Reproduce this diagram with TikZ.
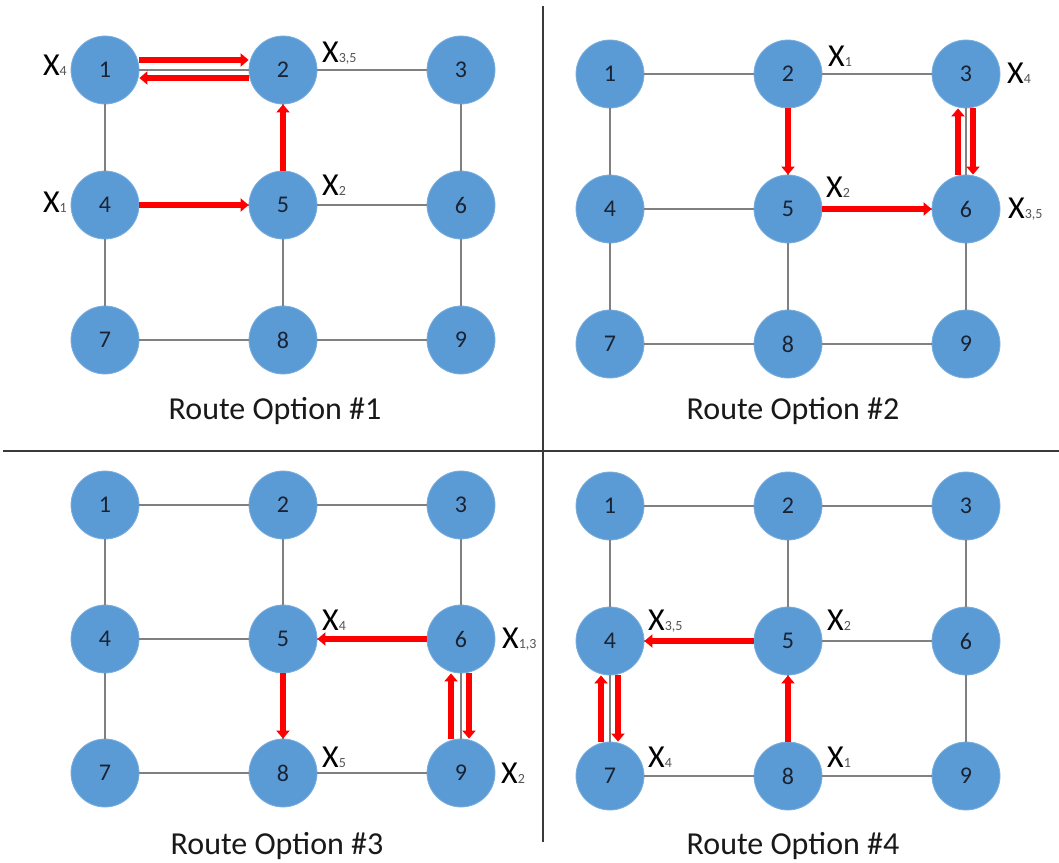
\documentclass[tikz,border=0pt]{standalone}
\usepackage{fontspec}
\setmainfont{Carlito}
\usetikzlibrary{arrows.meta}
\definecolor{nodefill}{HTML}{5B9BD5}
\definecolor{nodeedge}{HTML}{7AAEDD}
\definecolor{numcol}{HTML}{1A2333}
\definecolor{edgecol}{HTML}{808080}
\definecolor{divcol}{HTML}{3A3A3A}
\definecolor{subcol}{HTML}{555555}
\tikzset{
  vtx/.style={circle, minimum size=68pt, inner sep=0pt, fill=nodefill, draw=nodeedge, line width=0.8pt,
    text=numcol, font=\fontsize{24}{26}\selectfont},
  edge/.style={draw=edgecol, line width=1.8pt},
  rarr/.style={draw=red, line width=5.5pt, -{Triangle[length=8pt,width=13pt]}},
  divider/.style={draw=divcol, line width=2.5pt},
  title/.style={font=\fontsize{32}{36}\selectfont, text=black!90},
  xlab/.style={inner sep=0pt, text=black}
}
\newcommand{\xl}[1]{{\fontsize{32}{34}\selectfont X}{\fontsize{14}{16}\selectfont\color{subcol}#1}}
\newcommand{\mkgrid}[5]{%
  \foreach \n/\c/\r in {1/0/0,2/1/0,3/2/0,4/0/1,5/1/1,6/2/1,7/0/2,8/1/2,9/2/2}
    \node[vtx] (#1\n) at (#2+#4*\c, #3+#5*\r) {\n};
  \foreach \a/\b in {1/2,2/3,4/5,5/6,7/8,8/9,1/4,4/7,2/5,5/8,3/6,6/9}
    \draw[edge] (#1\a) -- (#1\b);
}
\begin{document}
\begin{tikzpicture}[x=1pt, y=-1pt]
\useasboundingbox (0,0) rectangle (1059,862);
\fill[white] (0,0) rectangle (1059,862);

% dividers
\coordinate (vtop) at (543,6);
\coordinate (vbot) at (543,842);
\coordinate (hl) at (3,451);
\coordinate (hr) at (1059,451);
\draw[divider] (vtop) -- (vbot);
\draw[divider] (hl) -- (hr);

% grids
\mkgrid{a}{105}{70}{178}{135}
\mkgrid{b}{610}{74}{178}{135}
\mkgrid{c}{105}{505}{178}{134}
\mkgrid{d}{610}{506}{178}{135}

% Route option 1
\draw[rarr] ([yshift=10pt]a1.east) -- ([yshift=10pt]a2.west);
\draw[rarr] ([yshift=-8pt]a2.west) -- ([yshift=-8pt]a1.east);
\draw[rarr] (a4) -- (a5);
\draw[rarr] (a5) -- (a2);
\node[xlab, anchor=base east] (la1) at (67,75) {\xl{4}};
\node[xlab, anchor=base west] (la2) at (322,62) {\xl{3,5}};
\node[xlab, anchor=base east] (la4) at (67,212) {\xl{1}};
\node[xlab, anchor=base west] (la5) at (322,195) {\xl{2}};
\node[title] (ta) at (275,411) {Route Option \#1};

% Route option 2
\draw[rarr] (b2) -- (b5);
\draw[rarr] (b5) -- (b6);
\draw[rarr] ([xshift=-8pt]b6.north) -- ([xshift=-8pt]b3.south);
\draw[rarr] ([xshift=7pt]b3.south) -- ([xshift=7pt]b6.north);
\node[xlab, anchor=base west] (lb2) at (828,66) {\xl{1}};
\node[xlab, anchor=base west] (lb3) at (1007,83) {\xl{4}};
\node[xlab, anchor=base west] (lb5) at (826,197) {\xl{2}};
\node[xlab, anchor=base west] (lb6) at (1008,218) {\xl{3,5}};
\node[title] (tb) at (793,411) {Route Option \#2};

% Route option 3
\draw[rarr] (c6) -- (c5);
\draw[rarr] (c5) -- (c8);
\draw[rarr] ([xshift=-10pt]c9.north) -- ([xshift=-10pt]c6.south);
\draw[rarr] ([xshift=8pt]c6.south) -- ([xshift=8pt]c9.north);
\node[xlab, anchor=base west] (lc5) at (322,630) {\xl{4}};
\node[xlab, anchor=base west] (lc6) at (502,648) {\xl{1,3}};
\node[xlab, anchor=base west] (lc8) at (322,767) {\xl{5}};
\node[xlab, anchor=base west] (lc9) at (501,783) {\xl{2}};
\node[title] (tc) at (277,846) {Route Option \#3};

% Route option 4
\draw[rarr] (d8) -- (d5);
\draw[rarr] (d5) -- (d4);
\draw[rarr] ([xshift=-9pt]d7.north) -- ([xshift=-9pt]d4.south);
\draw[rarr] ([xshift=8pt]d4.south) -- ([xshift=8pt]d7.north);
\node[xlab, anchor=base west] (ld4) at (648,630) {\xl{3,5}};
\node[xlab, anchor=base west] (ld5) at (827,630) {\xl{2}};
\node[xlab, anchor=base west] (ld7) at (648,767) {\xl{4}};
\node[xlab, anchor=base west] (ld8) at (827,767) {\xl{1}};
\node[title] (td) at (793,846) {Route Option \#4};
\end{tikzpicture}
\end{document}
